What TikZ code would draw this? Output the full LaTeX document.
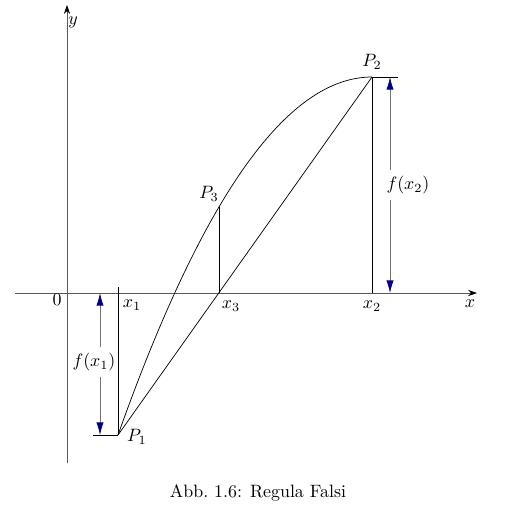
\documentclass[tikz,border=0pt]{standalone}
\usetikzlibrary{arrows.meta}
\begin{document}
\begin{tikzpicture}[x=0.559pt,y=-0.559pt,
  axis/.style={draw=black!65,-{Stealth[length=5pt,width=3.5pt,black]}},
  thin line/.style={draw=black,line width=0.4pt},
  measure/.style={draw=black!55,-{Latex[length=7pt,width=4pt,blue!55!black]}},
  lbl/.style={inner sep=1pt}]
\useasboundingbox (0,0) rectangle (524,514);
% coordinates
\coordinate (xs) at (15,293);
\coordinate (xe) at (477,293);
\coordinate (ys) at (67,463);
\coordinate (ye) at (67,5);
\coordinate (P1) at (118,435);
\coordinate (P2) at (372,77);
\coordinate (P3) at (219,207);
\coordinate (X1) at (118,287);
\coordinate (X2) at (372,293);
\coordinate (X3) at (219,293);
\coordinate (C1) at (202.67,196.33);
\coordinate (C2) at (287.33,77);
\coordinate (H1) at (93,435);
\coordinate (H2) at (398,77);
\coordinate (A1t) at (100,293);
\coordinate (A1b) at (100,435);
\coordinate (A2t) at (390,77);
\coordinate (A2b) at (390,293);
% axes
\draw[axis] (xs) -- (xe);
\draw[axis] (ys) -- (ye);
% curve and lines
\draw[thin line] (P1) .. controls (C1) and (C2) .. (P2);
\draw[thin line] (P1) -- (P2);
\draw[thin line] (P1) -- (X1);
\draw[thin line] (H1) -- (P1);
\draw[thin line] (P2) -- (X2);
\draw[thin line] (P2) -- (H2);
\draw[thin line] (P3) -- (X3);
% labels
\node[lbl] (ly) at (73,22) {$y$};
\node[lbl] (lx) at (470,304) {$x$};
\node[lbl] (l0) at (57,300) {$0$};
\node[lbl] (lx1) at (132,305) {$x_1$};
\node[lbl] (lx3) at (231,306) {$x_3$};
\node[lbl] (lx2) at (372,306) {$x_2$};
\node[lbl] (lP1) at (137,437) {$P_1$};
\node[lbl] (lP2) at (372,62) {$P_2$};
\node[lbl] (lP3) at (209,194) {$P_3$};
\node[lbl,inner sep=3pt] (f1) at (94,362) {$f(x_1)$};
\node[lbl,inner sep=3pt] (f2) at (408,185) {$f(x_2)$};
% measuring arrows
\draw[measure] (f1.north -| A1t) -- (A1t);
\draw[measure] (f1.south -| A1b) -- (A1b);
\draw[measure] (f2.north -| A2t) -- (A2t);
\draw[measure] (f2.south -| A2b) -- (A2b);
% caption
\node[lbl] (cap) at (258,493) {Abb.~1.6: Regula Falsi};
\end{tikzpicture}
\end{document}
